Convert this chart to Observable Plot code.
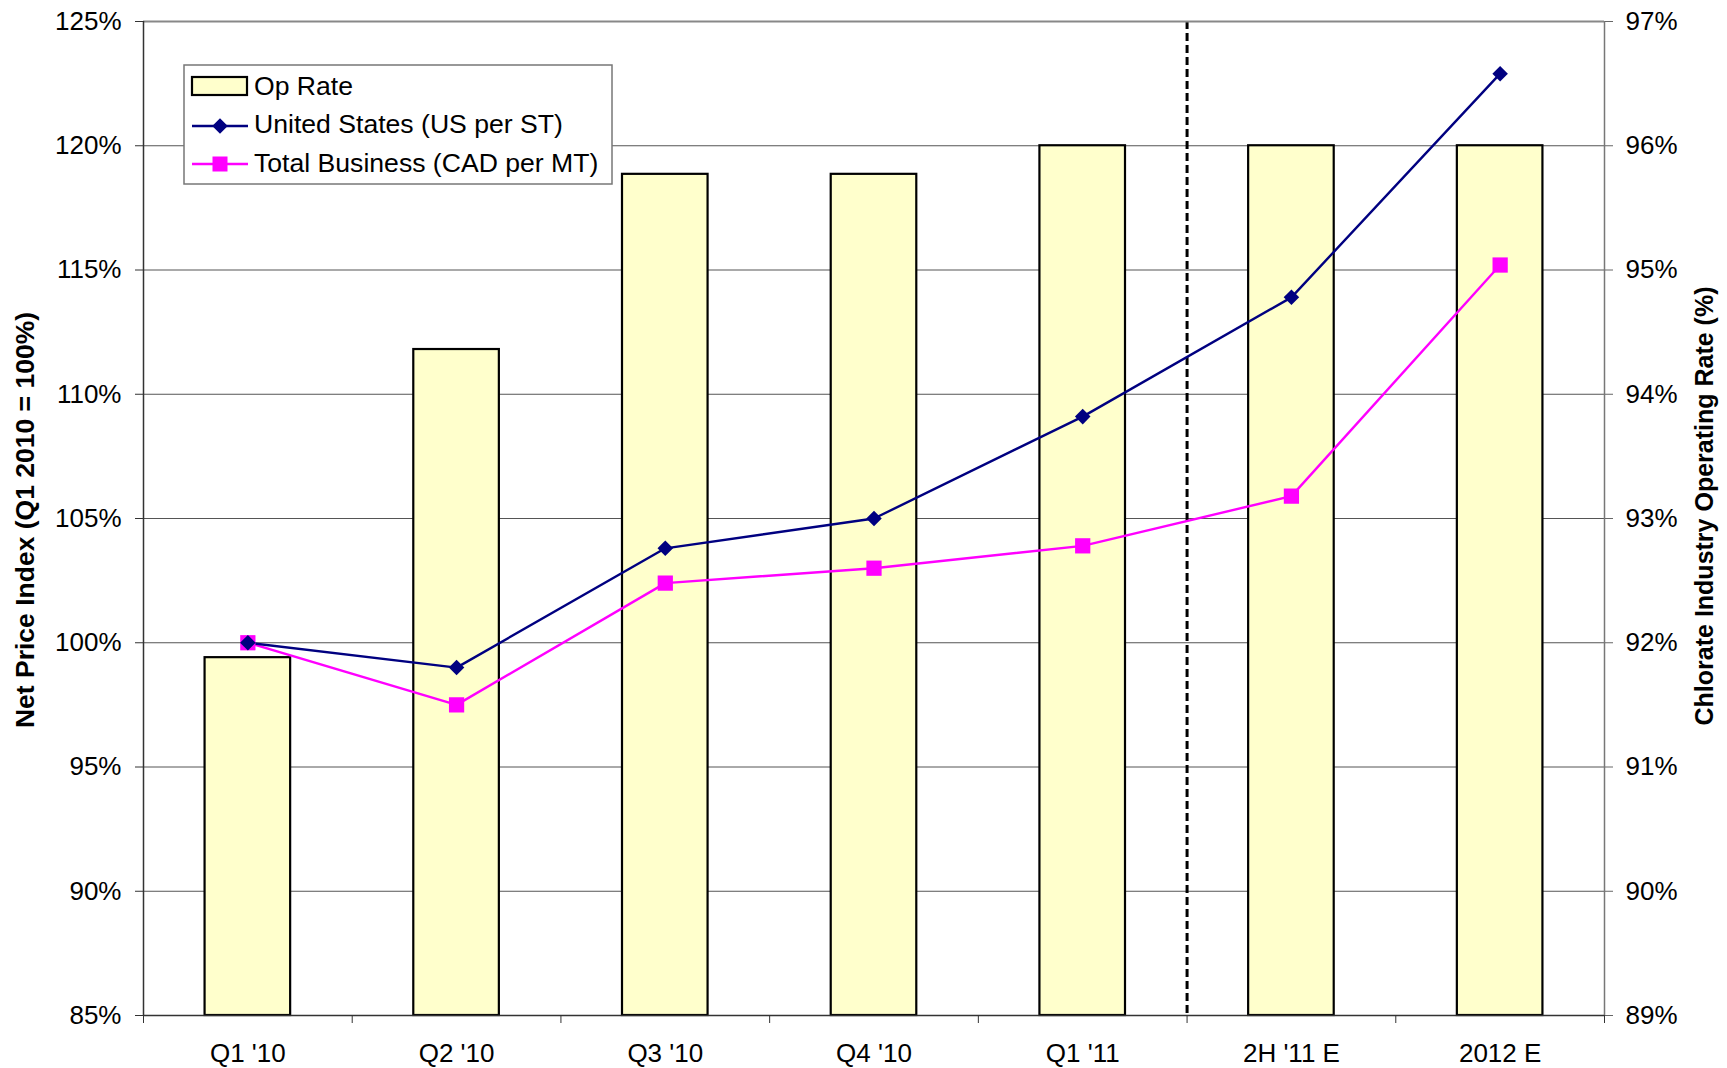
<!DOCTYPE html>
<html>
<head>
<meta charset="utf-8">
<script src="https://cdn.jsdelivr.net/npm/d3@7"></script>
<script src="https://cdn.jsdelivr.net/npm/@observablehq/plot@0.6"></script>
<style>
  html, body { margin: 0; padding: 0; background: #fff; }
  #chart { position: relative; width: 1727px; height: 1068px; }
</style>
</head>
<body>
<div id="chart"></div>
<script>
// ---- Data ----
const categories = ["Q1 '10", "Q2 '10", "Q3 '10", "Q4 '10", "Q1 '11", "2H '11 E", "2012 E"];
const opRate = [91.88, 94.36, 95.77, 95.77, 96.0, 96.0, 96.0];          // right axis, %
const unitedStates = [100.0, 99.0, 103.8, 105.0, 109.1, 113.9, 122.9]; // left axis, %
const totalBusiness = [100.0, 97.5, 102.4, 103.0, 103.9, 105.9, 115.2]; // left axis, %
const leftTicks = [85, 90, 95, 100, 105, 110, 115, 120, 125];
const rightTicks = [89, 90, 91, 92, 93, 94, 95, 96, 97];
const firstEstimateIndex = 5;
const seriesNames = ["Op Rate", "United States (US per ST)", "Total Business (CAD per MT)"];
const leftTitle = "Net Price Index (Q1 2010 = 100%)";
const rightTitle = "Chlorate Industry Operating Rate (%)";

// map right-axis values onto the left-axis scale
const L0 = leftTicks[0], L1 = leftTicks[leftTicks.length - 1];
const R0 = rightTicks[0], R1 = rightTicks[rightTicks.length - 1];
const toLeft = v => L0 + (v - R0) * (L1 - L0) / (R1 - R0);
const toRight = v => R0 + (v - L0) * (R1 - R0) / (L1 - L0);

const idx = categories.map((c, i) => i);
const bars = categories.map((c, i) => ({i, c, v: opRate[i]}));
const us = categories.map((c, i) => ({i, c, v: unitedStates[i]}));
const tb = categories.map((c, i) => ({i, c, v: totalBusiness[i]}));
const boundaries = d3.range(categories.length + 1).map(k => k - 0.5);
const barHalf = 0.205;

const FONT = "'Liberation Sans', Arial, sans-serif";

const plot = Plot.plot({
  width: 1727,
  height: 1068,
  marginLeft: 143,
  marginRight: 123,
  marginTop: 21,
  marginBottom: 53,
  style: {fontFamily: FONT, fontSize: "26px", color: "#000", background: "#fff", overflow: "visible"},
  x: {type: "linear", domain: [-0.5, categories.length - 0.5]},
  y: {type: "linear", domain: [L0, L1]},
  marks: [
    Plot.gridY(leftTicks, {stroke: "#555", strokeOpacity: 1, strokeWidth: 1}),
    Plot.rectY(bars, {
      x1: d => d.i - barHalf, x2: d => d.i + barHalf,
      y1: () => L0, y2: d => toLeft(d.v),
      fill: "#FFFFCC", stroke: "#000", strokeWidth: 2.2
    }),
    Plot.ruleX([firstEstimateIndex - 0.5], {stroke: "#000", strokeWidth: 3, strokeDasharray: "8,4"}),
    Plot.ruleY([L1], {stroke: "#888", strokeWidth: 2}),
    Plot.ruleX([boundaries[boundaries.length - 1]], {stroke: "#777", strokeWidth: 1.5}),
    Plot.ruleX([boundaries[0]], {stroke: "#333", strokeWidth: 1.5}),
    Plot.ruleY([L0], {stroke: "#333", strokeWidth: 1.5}),
    Plot.line(tb, {x: "i", y: "v", stroke: "#FF00FF", strokeWidth: 2.4}),
    Plot.line(us, {x: "i", y: "v", stroke: "#000080", strokeWidth: 2.4}),
    Plot.dot(tb, {x: "i", y: "v", symbol: "square", r: 8.6, fill: "#FF00FF", stroke: "none"}),
    Plot.dot(us, {x: "i", y: "v", symbol: "diamond2", r: 7, fill: "#000080", stroke: "none"}),
    Plot.axisY({anchor: "left", ticks: leftTicks, tickFormat: d => d + "%", tickSize: 8, tickPadding: 14, label: null, stroke: "#333"}),
    Plot.axisY({anchor: "right", ticks: leftTicks, tickFormat: d => Math.round(toRight(d)) + "%", tickSize: 8, tickPadding: 13, label: null, stroke: "#666"}),
    Plot.axisX({anchor: "bottom", ticks: boundaries, tickFormat: () => "", tickSize: 8, label: null, stroke: "#333"}),
    Plot.axisX({anchor: "bottom", ticks: idx, tickFormat: i => categories[i], tickSize: 0, tickPadding: 28, label: null})
  ]
});

document.getElementById("chart").appendChild(plot);

// ---- Axis titles & legend (drawn into the same SVG) ----
const svg = d3.select(plot);
const yScale = plot.scale("y");
const midY = (yScale.apply(L0) + yScale.apply(L1)) / 2;

svg.append("text")
  .attr("transform", `translate(25,${midY + 2}) rotate(-90)`)
  .attr("text-anchor", "middle").attr("dominant-baseline", "central")
  .attr("font-family", FONT).attr("font-size", 26.5).attr("font-weight", "bold")
  .attr("fill", "#000").text(leftTitle);

svg.append("text")
  .attr("transform", `translate(1704,${midY - 12}) rotate(-90)`)
  .attr("text-anchor", "middle").attr("dominant-baseline", "central")
  .attr("font-family", FONT).attr("font-size", 25).attr("font-weight", "bold")
  .attr("fill", "#000").text(rightTitle);

const lg = svg.append("g").attr("font-family", FONT).attr("font-size", 26.6).attr("text-anchor", "start");
lg.append("rect").attr("x", 184).attr("y", 65).attr("width", 428).attr("height", 119)
  .attr("fill", "#fff").attr("stroke", "#777").attr("stroke-width", 1.5);
// Op Rate swatch
lg.append("rect").attr("x", 192).attr("y", 77).attr("width", 55).attr("height", 18)
  .attr("fill", "#FFFFCC").attr("stroke", "#000").attr("stroke-width", 2.2);
// US swatch
lg.append("line").attr("x1", 192).attr("x2", 248).attr("y1", 126).attr("y2", 126)
  .attr("stroke", "#000080").attr("stroke-width", 2.4);
lg.append("path").attr("d", d3.symbol(d3.symbolDiamond2, Math.PI * 7 * 7)()).attr("transform", "translate(220,126)")
  .attr("fill", "#000080");
// TB swatch
lg.append("line").attr("x1", 192).attr("x2", 248).attr("y1", 164).attr("y2", 164)
  .attr("stroke", "#FF00FF").attr("stroke-width", 2.4);
lg.append("rect").attr("x", 212.5).attr("y", 156.5).attr("width", 15).attr("height", 15).attr("fill", "#FF00FF");
const baselines = [95, 133, 172];
seriesNames.forEach((n, k) => {
  lg.append("text").attr("x", 254).attr("y", baselines[k]).attr("text-anchor", "start").attr("fill", "#000").text(n);
});
</script>
</body>
</html>
